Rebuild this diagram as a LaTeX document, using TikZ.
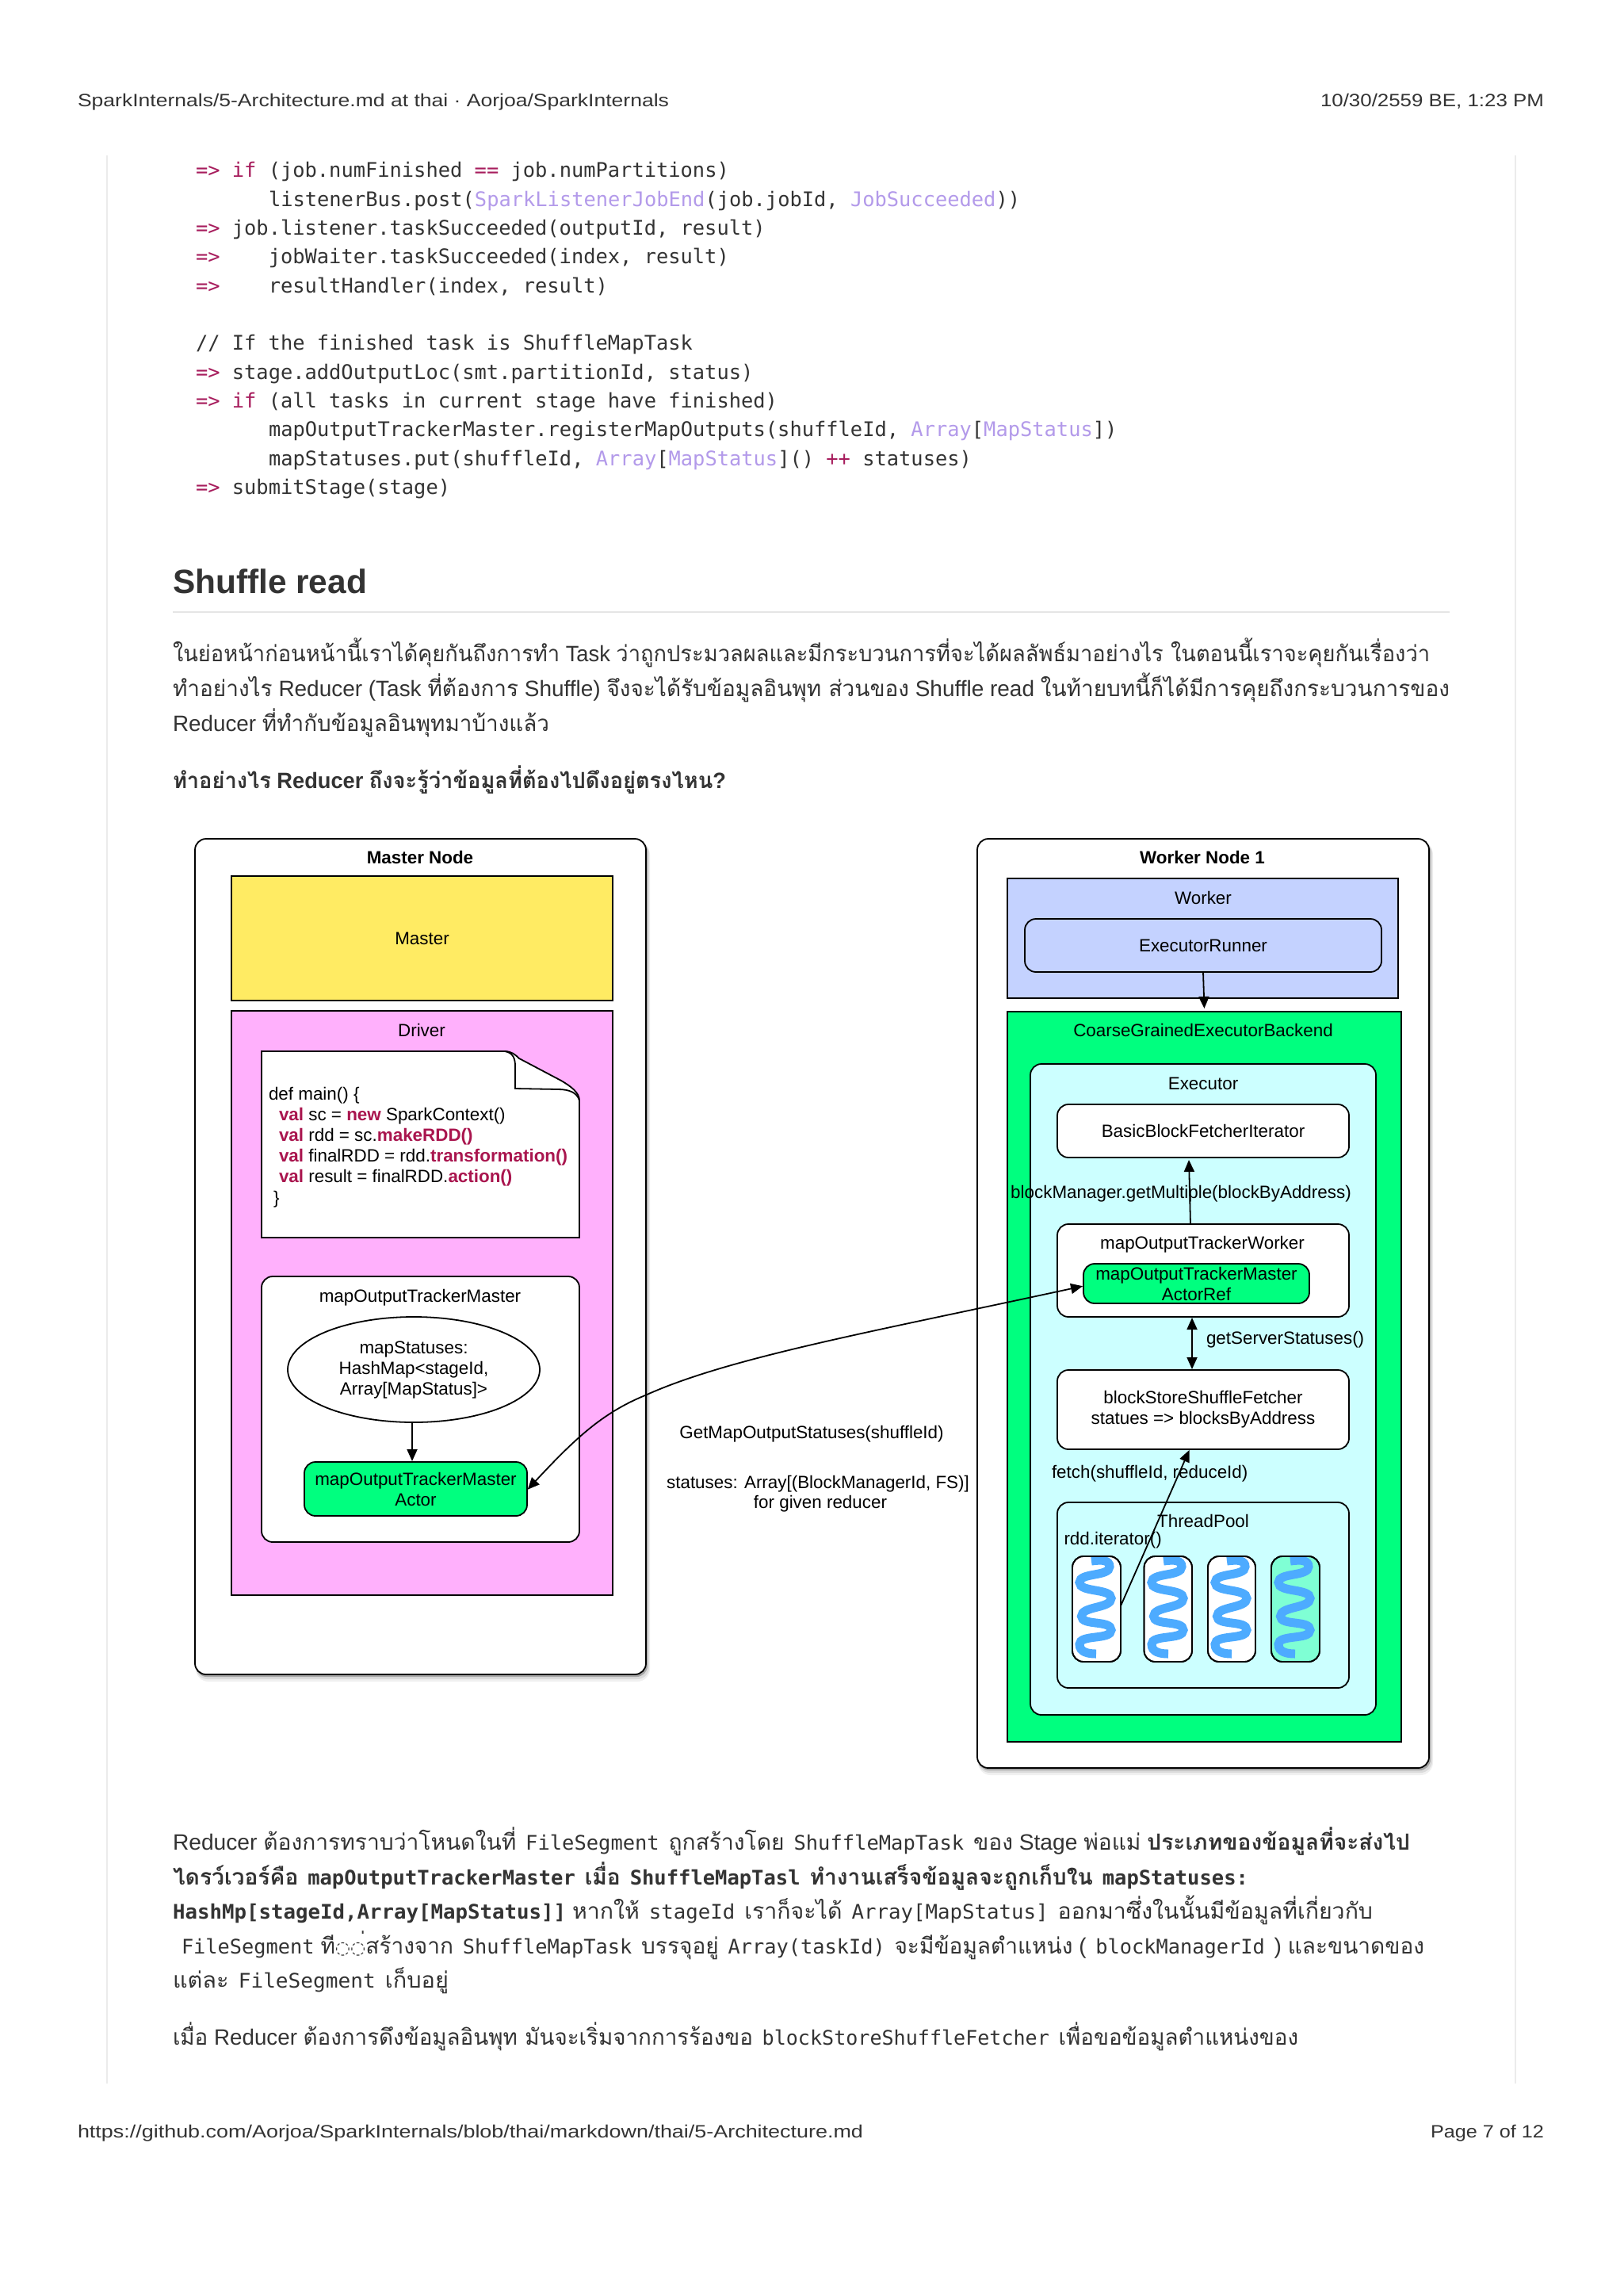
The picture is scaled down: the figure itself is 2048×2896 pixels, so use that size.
\documentclass[tikz,border=0pt]{standalone}
\usepackage{fontspec}
\usetikzlibrary{arrows.meta,shapes.geometric}
\setmainfont{Liberation Sans}
\setmonofont{DejaVu Sans Mono}
\newfontfamily\thaifont[Script=Thai]{Loma}
\newfontfamily\djfont{DejaVu Sans}
\definecolor{ink}{HTML}{333333}
\definecolor{kw}{HTML}{A71D5D}
\definecolor{pur}{HTML}{B39AEA}
\definecolor{ylw}{HTML}{FFEB63}
\definecolor{pnk}{HTML}{FFB0FC}
\definecolor{blu}{HTML}{C4D2FF}
\definecolor{grn}{HTML}{00FF7F}
\definecolor{cyn}{HTML}{CCFFFF}
\definecolor{aqu}{HTML}{7FFFD4}
\definecolor{wav}{HTML}{4DABFF}
\definecolor{red2}{HTML}{A9154E}
\newcommand{\T}[1]{{\thaifont #1}}
\newcommand{\M}[1]{\hspace{4pt}{\ttfamily\fontsize{25.3}{30}\selectfont #1}\hspace{4pt}}
\newcommand{\kw}[1]{\textcolor{kw}{#1}}
\newcommand{\pu}[1]{\textcolor{pur}{#1}}
\newcommand{\bk}[1]{\textcolor{red2}{\bfseries #1}}
\newcommand{\fitw}[2]{\resizebox{#1pt}{\height}{#2}}
% style, name, x1, y1, x2, y2, text
\newcommand{\bx}[7]{%
  \pgfmathsetmacro\bxcx{(#3+#5)/2}\pgfmathsetmacro\bxcy{(#4+#6)/2}%
  \pgfmathsetmacro\bxw{#5-#3}\pgfmathsetmacro\bxh{#6-#4}%
  \node[#1,minimum width=\bxw pt,minimum height=\bxh pt] (#2) at (\bxcx,\bxcy) {#7};}
\newcommand{\squig}[1]{%
  \begin{scope}[xshift=#1pt]
  \clip[rounded corners=14pt] (0,1964) rectangle (61,2095);
  \draw[wav,line width=11pt] (24,1969) .. controls (38,1967) and (47,1968) .. (47,1976)
    .. controls (47,1989) and (9,1983) .. (9,1996)
    .. controls (9,2009) and (49,2003) .. (49,2016)
    .. controls (49,2029) and (11.5,2025.6) .. (11.5,2038.6)
    .. controls (11.5,2051) and (49,2043) .. (49,2056)
    .. controls (49,2069) and (9,2061) .. (9,2074)
    .. controls (9,2084) and (20,2086) .. (30,2086);
  \end{scope}}
\newcommand{\hostshadow}[4]{%
  \fill[black!6,rounded corners=16pt] (#1+1,#2+4) rectangle (#3+5,#4+9);
  \fill[black!14,rounded corners=15pt] (#1+1,#2+3) rectangle (#3+4,#4+6);
  \fill[black!35,rounded corners=14pt] (#1+1,#2+2) rectangle (#3+2,#4+3);}
\tikzset{
  x=1pt,y=-1pt,
  every node/.style={inner sep=0pt,outer sep=0pt},
  dia/.style={font=\fontsize{22.4}{26}\selectfont,align=center,text=black},
  lbl/.style={dia,anchor=mid,yshift=-6.5pt},
  lblw/.style={dia,anchor=mid west,yshift=-6.5pt},
  box/.style={dia,draw=black,line width=1.8pt},
  rbox/.style={box,rectangle,rounded corners=14pt},
  hostbox/.style={rbox,fill=white},
  arr/.style={draw=black,line width=1.8pt,-{Triangle[length=15pt,width=13pt]},shorten >=1pt},
  codeline/.style={anchor=mid west,yshift=-7pt,font=\ttfamily\fontsize{25.4}{30}\selectfont,text=ink},
  body/.style={anchor=mid west,yshift=-7.5pt,font=\fontsize{28}{34}\selectfont,text=ink},
  page/.style={anchor=mid west,yshift=-7pt,font=\fontsize{22.5}{27}\selectfont,text=ink},
}
\begin{document}
\begin{tikzpicture}
\useasboundingbox (0,0) rectangle (2048,2896);
\fill[white] (0,0) rectangle (2048,2896);
% page furniture
\node[page] (hl) at (98,125) {\fitw{746}{SparkInternals/5-Architecture.md at thai · Aorjoa/SparkInternals}};
\node[page,anchor=mid east] (hr) at (1948,125) {\fitw{282}{10/30/2559 BE, 1:23 PM}};
\node[page] (fl) at (98,2687) {\fitw{991}{https://github.com/Aorjoa/SparkInternals/blob/thai/markdown/thai/5-Architecture.md}};
\node[page,anchor=mid east] (fr) at (1948,2687) {\fitw{143}{Page 7 of 12}};
\draw[black!8,line width=1.5pt] (135,196) -- (135,2628) (1912,196) -- (1912,2628);
% code
\node[codeline] (c1) at (247,214) {\kw{=>} \kw{if} (job.numFinished \kw{==} job.numPartitions)};
\node[codeline] (c2) at (339,250.5) {listenerBus.post(\pu{SparkListenerJobEnd}(job.jobId, \pu{JobSucceeded}))};
\node[codeline] (c3) at (247,287) {\kw{=>} job.listener.taskSucceeded(outputId, result)};
\node[codeline] (c4) at (247,323) {\kw{=>}\ \ \ \ jobWaiter.taskSucceeded(index, result)};
\node[codeline] (c5) at (247,359.5) {\kw{=>}\ \ \ \ resultHandler(index, result)};
\node[codeline] (c6) at (247,432) {// If the finished task is ShuffleMapTask};
\node[codeline] (c7) at (247,468.5) {\kw{=>} stage.addOutputLoc(smt.partitionId, status)};
\node[codeline] (c8) at (247,505) {\kw{=>} \kw{if} (all tasks in current stage have finished)};
\node[codeline] (c9) at (339,541) {mapOutputTrackerMaster.registerMapOutputs(shuffleId, \pu{Array}[\pu{MapStatus}])};
\node[codeline] (c10) at (339,577.5) {mapStatuses.put(shuffleId, \pu{Array}[\pu{MapStatus}]() \kw{++} statuses)};
\node[codeline] (c11) at (247,614) {\kw{=>} submitStage(stage)};
% heading
\node[body,yshift=-5.5pt,font=\bfseries\fontsize{42.4}{50}\selectfont] (h) at (218,733) {Shuffle read};
\draw[black!10,line width=1.5pt] (218,772) -- (1829,772);
\node[body] (p1) at (218,824) {\fitw{1586}{\T{ในย่อหน้าก่อนหน้านี้เราได้คุยกันถึงการทำ} Task \T{ว่าถูกประมวลผลและมีกระบวนการที่จะได้ผลลัพธ์มาอย่างไร ในตอนนี้เราจะคุยกันเรื่องว่า}}};
\node[body] (p2) at (218,868) {\fitw{1611}{\T{ทำอย่างไร} Reducer (Task \T{ที่ต้องการ} Shuffle) \T{จึงจะได้รับข้อมูลอินพุท ส่วนของ} Shuffle read \T{ในท้ายบทนี้ก็ได้มีการคุยถึงกระบวนการของ}}};
\node[body] (p3) at (218,912) {\fitw{475}{Reducer \T{ที่ทำกับข้อมูลอินพุทมาบ้างแล้ว}}};
\node[body,font=\bfseries\fontsize{28}{34}\selectfont] (p4) at (218,984) {\fitw{698}{\T{ทำอย่างไร} Reducer \T{ถึงจะรู้ว่าข้อมูลที่ต้องไปดึงอยู่ตรงไหน}?}};
% Master node
\hostshadow{246}{1058}{815}{2112}
\bx{hostbox}{mnode}{246}{1058}{815}{2112}{}
\node[lbl,font=\bfseries\fontsize{22.4}{26}\selectfont] (mt) at (530,1080) {Master Node};
\bx{box,fill=ylw}{master}{292}{1105}{773}{1262}{Master}
\bx{box,fill=pnk}{driver}{292}{1275}{773}{2012}{}
\node[lbl] (dt) at (532,1298) {Driver};
\draw[black,fill=white,line width=1.8pt] (330,1326) -- (637,1326) .. controls (645,1326) and (650,1330) .. (655,1335) -- (708,1363) .. controls (720,1370) and (731,1378) .. (731,1388) -- (731,1561) -- (330,1561) -- cycle;
\draw[black,line width=1.8pt] (637,1326) .. controls (648,1328) and (650,1336) .. (650,1345) -- (650,1373) -- (704,1374) .. controls (718,1374) and (728,1378) .. (731,1388);
\node[lblw] (n1) at (339,1378) {def main() \{};
\node[lblw] (n2) at (352,1404) {\bk{val} sc = \bk{new} SparkContext()};
\node[lblw] (n3) at (352,1430) {\bk{val} rdd = sc.\bk{makeRDD()}};
\node[lblw] (n4) at (352,1456) {\bk{val} finalRDD = rdd.\bk{transformation()}};
\node[lblw] (n5) at (352,1482) {\bk{val} result = finalRDD.\bk{action()}};
\node[lblw] (n6) at (345,1509) {\}};
\bx{rbox,fill=white}{tracker}{330}{1610}{731}{1945}{}
\node[lbl] (tt) at (530,1633) {mapOutputTrackerMaster};
\bx{box,ellipse,fill=white}{statuses}{363}{1661}{681}{1794}{mapStatuses:\\HashMap<stageId,\\Array[MapStatus]>}
\bx{rbox,fill=grn}{actor}{384}{1844}{665}{1912}{mapOutputTrackerMaster\\Actor}
\draw[arr] ([xshift=-2pt]statuses.south) -- ([xshift=-4.5pt]actor.north);
% Worker node
\hostshadow{1233}{1058}{1803}{2230}
\bx{hostbox}{wnode}{1233}{1058}{1803}{2230}{}
\node[lbl,font=\bfseries\fontsize{22.4}{26}\selectfont] (wt) at (1517,1080) {Worker Node 1};
\bx{box,fill=blu}{worker}{1271}{1108}{1764}{1259}{}
\node[lbl] (wl) at (1518,1131) {Worker};
\bx{rbox,fill=blu}{runner}{1293}{1159}{1743}{1226}{ExecutorRunner}
\bx{box,fill=grn}{backend}{1271}{1276}{1768}{2197}{}
\node[lbl] (bl) at (1518,1298) {CoarseGrainedExecutorBackend};
\bx{rbox,fill=cyn}{executor}{1300}{1342}{1736}{2163}{}
\node[lbl] (el) at (1518,1365) {Executor};
\bx{rbox,fill=white}{bbfi}{1334}{1393}{1702}{1460}{BasicBlockFetcherIterator}
\bx{rbox,fill=white}{tworker}{1334}{1544}{1702}{1661}{}
\node[lbl] (twl) at (1517,1566) {mapOutputTrackerWorker};
\bx{rbox,fill=grn}{actorref}{1367}{1594}{1652}{1644}{mapOutputTrackerMaster\\ActorRef}
\bx{rbox,fill=white}{fetcher}{1334}{1728}{1702}{1828}{blockStoreShuffleFetcher\\statues => blocksByAddress}
\bx{rbox,fill=cyn}{pool}{1334}{1895}{1702}{2129}{}
\node[lbl] (pl) at (1518,1917) {ThreadPool};
\bx{rbox,fill=white}{t1}{1353}{1963}{1414}{2096}{}
\bx{rbox,fill=white}{t2}{1443.5}{1963}{1504}{2096}{}
\bx{rbox,fill=white}{t3}{1524}{1963}{1584}{2096}{}
\bx{rbox,fill=aqu}{t4}{1604}{1963}{1665}{2096}{}
\squig{1353}
\squig{1444}
\squig{1524}
\squig{1604}
\draw[rounded corners=14pt,line width=1.8pt] (1353,1963) rectangle (1414,2096) (1443.5,1963) rectangle (1504,2096) (1524,1963) rectangle (1584,2096) (1604,1963) rectangle (1665,2096);
% connectors
\draw[arr] (runner.south) -- ([yshift=3pt]backend.north);
\draw[arr] ([xshift=-16pt]tworker.north) -- ([xshift=-18pt,yshift=-2pt]bbfi.south);
\draw[arr,{Triangle[length=15pt,width=13pt]}-{Triangle[length=15pt,width=13pt]},shorten <=1pt] ([xshift=-14pt]tworker.south) -- ([xshift=-14pt]fetcher.north);
\draw[arr] ([yshift=4pt]t1.east) -- ([xshift=-17pt]fetcher.south);
\draw[arr,{Triangle[length=15pt,width=13pt]}-{Triangle[length=15pt,width=13pt]},shorten <=1pt] ([yshift=-1.5pt]actor.east) .. controls (725,1815) and (760,1782) .. (814,1760) .. controls (920,1712) and (1100,1680) .. ([yshift=-3pt]actorref.west);
% connector labels
\node[lbl] (l1) at (1490,1502) {blockManager.getMultiple(blockByAddress)};
\node[lblw] (l2) at (1522,1686) {getServerStatuses()};
\node[lblw] (l3) at (1327,1855) {fetch(shuffleId, reduceId)};
\node[lblw] (l4) at (1342.5,1939) {rdd.iterator()};
\node[lbl] (l5) at (1024,1805) {GetMapOutputStatuses(shuffleId)};
\node[lbl] (l6) at (1032,1868) {statuses: Array[(BlockManagerId, FS)]};
\node[lbl] (l7) at (1035,1893) {for given reducer};
% lower text
\node[body] (q1) at (218,2323) {\fitw{1561}{Reducer \T{ต้องการทราบว่าโหนดในที่} \M{FileSegment} \T{ถูกสร้างโดย} \M{ShuffleMapTask} \T{ของ} Stage \T{พ่อแม่} \textbf{\T{ประเภทของข้อมูลที่จะส่งไป}}}};
\node[body] (q2) at (218,2367) {\fitw{1361}{\bfseries\T{ไดรว์เวอร์คือ} \M{mapOutputTrackerMaster} \T{เมื่อ} \M{ShuffleMapTasl} \T{ทำงานเสร็จข้อมูลจะถูกเก็บใน} \M{mapStatuses:}}};
\node[body] (q3) at (218,2410) {\fitw{1514}{{\ttfamily\bfseries\fontsize{25.3}{30}\selectfont HashMp[stageId,Array[MapStatus]]} \T{หากให้} \M{stageId} \T{เราก็จะได้} \M{Array[MapStatus]} \T{ออกมาซึ่งในนั้นมีข้อมูลที่เกี่ยวกับ}}};
\node[body] (q4) at (229,2454) {\fitw{1568}{{\ttfamily\fontsize{25.3}{30}\selectfont FileSegment} \T{ที}{\djfont\fontsize{22}{22}\selectfont\char"25CC\char"25CC}\T{่สร้างจาก} \M{ShuffleMapTask} \T{บรรจุอยู่} \M{Array(taskId)} \T{จะมีข้อมูลตำแหน่ง} ( \M{blockManagerId} ) \T{และขนาดของ}}};
\node[body] (q5) at (218,2497) {\fitw{348}{\T{แต่ละ} \M{FileSegment} \T{เก็บอยู่}}};
\node[body] (q6) at (218,2569) {\fitw{1420}{\T{เมื่อ} Reducer \T{ต้องการดึงข้อมูลอินพุท มันจะเริ่มจากการร้องขอ} \M{blockStoreShuffleFetcher} \T{เพื่อขอข้อมูลตำแหน่งของ}}};
\end{tikzpicture}
\end{document}
